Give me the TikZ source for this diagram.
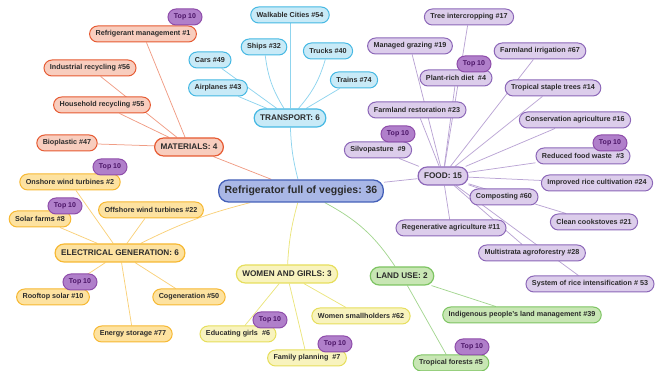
\documentclass[tikz,border=0pt]{standalone}
\usepackage{fontspec}
\setmainfont{Liberation Sans}
\usepackage{xcolor}
\usepackage{tikz}
\usetikzlibrary{backgrounds}
\definecolor{txt}{HTML}{2B2B2B}
\definecolor{hubfill}{HTML}{A9B7E6}
\definecolor{hubline}{HTML}{4460B8}
\definecolor{matfill}{HTML}{F8CDBE}
\definecolor{matline}{HTML}{E65A32}
\definecolor{transfill}{HTML}{C8EAF7}
\definecolor{transline}{HTML}{45B8E3}
\definecolor{foodfill}{HTML}{DCCDEB}
\definecolor{foodline}{HTML}{8C67B8}
\definecolor{elecfill}{HTML}{FDE2A0}
\definecolor{elecline}{HTML}{F6B832}
\definecolor{womfill}{HTML}{F8F3BE}
\definecolor{womline}{HTML}{E6DE5C}
\definecolor{landfill}{HTML}{C8E6B4}
\definecolor{landline}{HTML}{7DC462}
\definecolor{topfill}{HTML}{B07FCA}
\definecolor{topline}{HTML}{8E4CAA}
\definecolor{toptext}{HTML}{4A1466}
\tikzset{
  hub/.style={draw=hubline,fill=hubfill,line width=1.3pt,rounded corners=10pt,text=txt,
    font=\bfseries\fontsize{10.5}{12}\selectfont,inner xsep=6pt,inner ysep=0pt,minimum height=22pt},
  branch/.style={line width=1.2pt,rounded corners=9pt,text=txt,
    font=\bfseries\fontsize{8.2}{10}\selectfont,inner xsep=6pt,inner ysep=0pt,minimum height=18pt},
  leaf/.style={line width=1pt,rounded corners=8pt,text=txt,
    font=\bfseries\fontsize{7.2}{8}\selectfont,inner xsep=6pt,inner ysep=0pt,minimum height=16pt},
  topten/.style={draw=topline,fill=topfill,line width=1pt,rounded corners=8pt,text=toptext,
    font=\bfseries\fontsize{7}{8}\selectfont,inner xsep=6pt,inner ysep=0pt,minimum height=16pt},
  mat/.style={draw=matline,fill=matfill},
  trans/.style={draw=transline,fill=transfill},
  food/.style={draw=foodline,fill=foodfill},
  elec/.style={draw=elecline,fill=elecfill},
  wom/.style={draw=womline,fill=womfill},
  land/.style={draw=landline,fill=landfill},
  matlink/.style={draw=matline!60,line width=0.75pt},
  translink/.style={draw=transline!60,line width=0.75pt},
  foodlink/.style={draw=foodline!60,line width=0.75pt},
  eleclink/.style={draw=elecline!65,line width=0.75pt},
  womlink/.style={draw=womline!80,line width=0.75pt},
  landlink/.style={draw=landline!70,line width=0.75pt},
}
\begin{document}
\begin{tikzpicture}[x=1pt,y=-1pt]
\useasboundingbox (0,0) rectangle (657,371);
% centre and branches
\node[hub] (hub) at (301,191) {Refrigerator full of veggies: 36};
\node[branch,mat] (mat) at (189,147) {MATERIALS: 4};
\node[branch,trans] (trans) at (290,118) {TRANSPORT: 6};
\node[branch,food] (food) at (443,176) {FOOD: 15};
\node[branch,elec] (elec) at (120,253) {ELECTRICAL GENERATION: 6};
\node[branch,wom] (wom) at (287,274) {WOMEN AND GIRLS: 3};
\node[branch,land] (land) at (402,276) {LAND USE: 2};
% materials
\node[leaf,mat] (refrig) at (143,34) {Refrigerant management \#1};
\node[leaf,mat] (indrec) at (90,68) {Industrial recycling \#56};
\node[leaf,mat] (houserec) at (102,105) {Household recycling \#55};
\node[leaf,mat] (bioplast) at (67,143) {Bioplastic \#47};
% transport
\node[leaf,trans] (walk) at (290,15) {Walkable Cities \#54};
\node[leaf,trans] (ships) at (264,47) {Ships \#32};
\node[leaf,trans] (trucks) at (328,51) {Trucks \#40};
\node[leaf,trans] (cars) at (210,60) {Cars \#49};
\node[leaf,trans] (planes) at (218,88) {Airplanes \#43};
\node[leaf,trans] (trains) at (354,80) {Trains \#74};
% electrical generation
\node[leaf,elec] (onshore) at (70,182) {Onshore wind turbines \#2};
\node[leaf,elec] (solar) at (40,219) {Solar farms \#8};
\node[leaf,elec] (offshore) at (151,210) {Offshore wind turbines \#22};
\node[leaf,elec] (rooftop) at (53,297) {Rooftop solar \#10};
\node[leaf,elec] (cogen) at (189,297) {Cogeneration \#50};
\node[leaf,elec] (storage) at (133,334) {Energy storage \#77};
% women and girls
\node[leaf,wom] (educ) at (238,334) {Educating girls~ \#6};
\node[leaf,wom] (family) at (307,358) {Family planning~ \#7};
\node[leaf,wom] (smallh) at (361,316) {Women smallholders \#62};
% land use
\node[leaf,land] (indig) at (522,315) {Indigenous people's land management \#39};
\node[leaf,land] (tropfor) at (451,363) {Tropical forests \#5};
% food
\node[leaf,food] (treeint) at (469,17) {Tree intercropping \#17};
\node[leaf,food] (grazing) at (410,46) {Managed grazing \#19};
\node[leaf,food] (plantrich) at (456,78) {Plant-rich diet~ \#4};
\node[leaf,food] (irrig) at (540,51) {Farmland irrigation \#67};
\node[leaf,food] (staple) at (553,88) {Tropical staple trees \#14};
\node[leaf,food] (restor) at (417,110) {Farmland restoration \#23};
\node[leaf,food] (conserv) at (575,120) {Conservation agriculture \#16};
\node[leaf,food] (silvo) at (378,150) {Silvopasture~ \#9};
\node[leaf,food] (waste) at (583,156) {Reduced food waste~ \#3};
\node[leaf,food] (rice) at (597,183) {Improved rice cultivation \#24};
\node[leaf,food] (compost) at (504,197) {Composting \#60};
\node[leaf,food] (cook) at (594,222) {Clean cookstoves \#21};
\node[leaf,food] (regen) at (451,228) {Regenerative agriculture \#11};
\node[leaf,food] (multi) at (532,253) {Multistrata agroforestry \#28};
\node[leaf,food] (sri) at (590,284) {System of rice intensification \# 53};
% top 10 badges
\node[topten] (top1) at (185,17) {Top 10};
\node[topten] (top2) at (110,167) {Top 10};
\node[topten] (top8) at (65,206) {Top 10};
\node[topten] (top10) at (80,282) {Top 10};
\node[topten] (top6) at (270,320) {Top 10};
\node[topten] (top7) at (335,344) {Top 10};
\node[topten] (top5) at (472,347) {Top 10};
\node[topten] (top4) at (474,64) {Top 10};
\node[topten] (top9) at (398,134) {Top 10};
\node[topten] (top3) at (610,143) {Top 10};
% connectors
\begin{scope}[on background layer]
\path[matlink] (hub) edge (mat);
\path[translink] (hub) edge[bend left=6] (trans);
\path[foodlink] (hub) edge (food);
\path[eleclink] (hub) edge[bend right=6] (elec);
\path[womlink] (hub) edge[bend right=6] (wom);
\path[landlink] (hub) edge[bend left=14] (land);
\path[matlink] (mat) edge (refrig) edge (indrec) edge (houserec) edge (bioplast);
\path[translink] (trans) edge (walk) edge[bend left=12] (ships) edge[bend right=12] (trucks)
  edge (cars) edge (planes) edge (trains);
\path[eleclink] (elec) edge (onshore) edge (solar) edge (offshore) edge (rooftop)
  edge (cogen) edge (storage);
\path[womlink] (wom) edge (educ) edge (family) edge (smallh);
\path[landlink] (land) edge (indig) edge (tropfor);
\path[foodlink] (food) edge (treeint) edge (grazing) edge (plantrich) edge (irrig)
  edge (staple) edge (restor) edge (conserv) edge (silvo) edge (waste) edge (rice)
  edge (compost) edge (cook) edge (regen) edge (multi) edge (sri);
\end{scope}
\end{tikzpicture}
\end{document}
